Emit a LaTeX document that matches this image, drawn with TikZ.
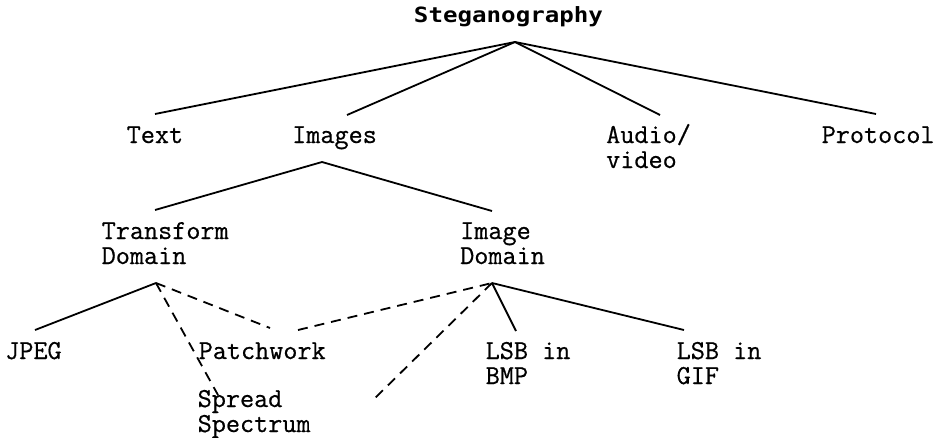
\documentclass[tikz,border=0pt]{standalone}
\usepackage{fontspec}
\newfontfamily\titlefont{DejaVu Sans Mono}[FakeStretch=1.15]
\newfontfamily\bodyfont{Latin Modern Mono}[FakeBold=0.6]
\newcommand\lbfont{\bodyfont\fontsize{27.4}{25}\selectfont}
\newcommand\twol[2]{\begin{tabular}[t]{@{}l@{}}#1\\#2\end{tabular}}
\begin{document}
\begin{tikzpicture}[x=1pt,y=-1pt,
  lbl/.style={inner sep=0pt, anchor=base west, font=\lbfont},
  ttl/.style={inner sep=0pt, anchor=base, font=\titlefont\bfseries\fontsize{21}{24}\selectfont},
  edge/.style={line width=1.8pt},
  dedge/.style={edge, dash pattern=on 10pt off 7pt}]
\useasboundingbox (0,0) rectangle (934,437);

% labels
\node[ttl] (steg) at (508.5,22) {Steganography};
\node[lbl] (text) at (126.5,143) {Text};
\node[lbl] (images) at (292,143) {Images};
\node[lbl] (audio) at (606,143) {\twol{Audio/}{video}};
\node[lbl] (proto) at (821.5,143) {Protocol};
\node[lbl] (td) at (101.5,239) {\twol{Transform}{Domain}};
\node[lbl] (id) at (460,239) {\twol{Image}{Domain}};
\node[lbl] (jpeg) at (5,359) {JPEG};
\node[lbl] (patch) at (198.5,359) {Patchwork};
\node[lbl] (spread) at (197.5,407) {\twol{Spread}{Spectrum}};
\node[lbl] (bmp) at (485.5,359) {\twol{LSB in}{BMP}};
\node[lbl] (gif) at (676.5,359) {\twol{LSB in}{GIF}};

% connection points
\coordinate (stegOut) at (515,42);
\coordinate (textIn) at (155,114);
\coordinate (imagesIn) at (347,115);
\coordinate (audioIn) at (660,115);
\coordinate (protoIn) at (876,114);
\coordinate (imagesOut) at (322,162);
\coordinate (tdIn) at (155,210);
\coordinate (idIn) at (492,211);
\coordinate (tdOut) at (156,283);
\coordinate (jpegIn) at (35,330);
\coordinate (patchInL) at (270,328);
\coordinate (spreadIn) at (218,395);
\coordinate (patchOutR) at (298,330);
\coordinate (idOut) at (492,283);
\coordinate (looseEnd) at (373,400);
\coordinate (bmpIn) at (516,331);
\coordinate (gifIn) at (684,330);

% connectors
\draw[edge] (stegOut) -- (textIn);
\draw[edge] (stegOut) -- (imagesIn);
\draw[edge] (stegOut) -- (audioIn);
\draw[edge] (stegOut) -- (protoIn);
\draw[edge] (imagesOut) -- (tdIn);
\draw[edge] (imagesOut) -- (idIn);
\draw[edge] (tdOut) -- (jpegIn);
\draw[dedge] (tdOut) -- (patchInL);
\draw[dedge] (tdOut) -- (spreadIn);
\draw[dedge] (patchOutR) -- (idOut);
\draw[dedge] (idOut) -- (looseEnd);
\draw[edge] (idOut) -- (bmpIn);
\draw[edge] (idOut) -- (gifIn);
\end{tikzpicture}
\end{document}
